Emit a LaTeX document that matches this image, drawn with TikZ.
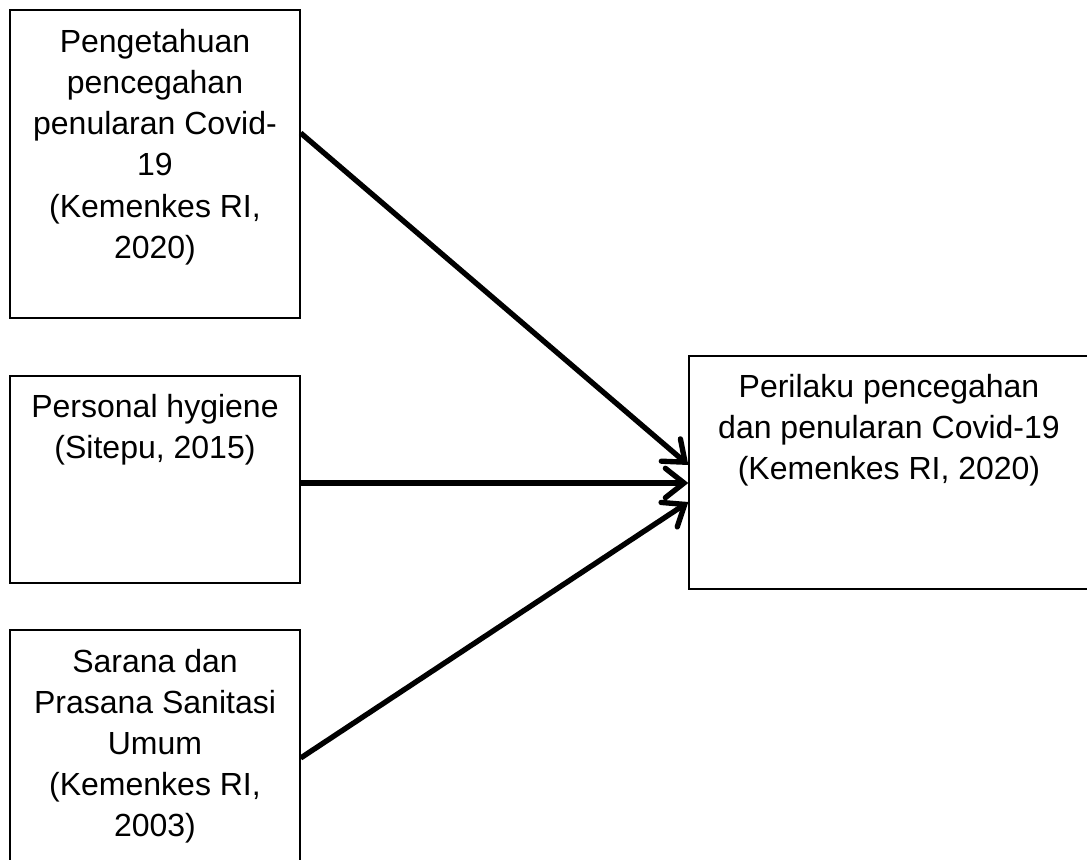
\documentclass[tikz,border=0pt]{standalone}
\usepackage{fontspec}
\setmainfont{Liberation Sans}
\usetikzlibrary{arrows.meta,calc}
\begin{document}
\begin{tikzpicture}[x=0.75pt,y=-0.75pt,
  box/.style={draw,line width=1pt,inner sep=0pt},
  txt/.style={anchor=north,align=center,inner sep=0pt,font=\fontsize{24pt}{30.8pt}\selectfont},
  arr/.style={line width=4pt,-{Straight Barb[length=14pt,width=22pt,line cap=round]}}]
\useasboundingbox (0,0) rectangle (1087,859);
\clip (0,0) rectangle (1087,859);
% Boxes
\node[box,minimum width=217.5pt,minimum height=231pt] (pengetahuan) at (155,164) {};
\node[box,minimum width=217.5pt,minimum height=155.25pt] (hygiene) at (155,479.5) {};
\node[box,minimum width=217.5pt,minimum height=192pt] (sarana) at (155,758) {};
\node[box,minimum width=300pt,minimum height=174.75pt] (perilaku) at (889,472.5) {};
% Labels
\node[txt] (pengetahuan-txt) at ([yshift=-15pt]pengetahuan.north) {Pengetahuan\\pencegahan\\penularan Covid-\\19\\(Kemenkes RI,\\2020)};
\node[txt] (hygiene-txt) at ([yshift=-14pt]hygiene.north) {Personal hygiene\\(Sitepu, 2015)};
\node[txt] (sarana-txt) at ([yshift=-14.5pt]sarana.north) {Sarana dan\\Prasana Sanitasi\\Umum\\(Kemenkes RI,\\2003)};
\node[txt] (perilaku-txt) at ([yshift=-14pt]perilaku.north) {Perilaku pencegahan\\dan penularan Covid-19\\(Kemenkes RI, 2020)};
% Arrows
\draw[arr] ($(pengetahuan.east)+(0,-31)$) -- ($(perilaku.west)+(0,-7.5)$);
\draw[arr] ($(hygiene.east)+(0,3.5)$) -- ($(perilaku.west)+(0,10.5)$);
\draw[arr] (sarana.east) -- ($(perilaku.west)+(0,29.5)$);
\end{tikzpicture}
\end{document}
